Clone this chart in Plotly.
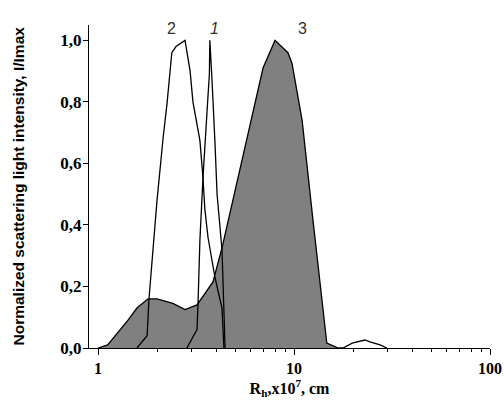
import math
import plotly.graph_objects as go

# Series 1 (narrow peak)
r1 = [2.84, 3.20, 3.24, 3.31, 3.43, 3.51, 3.60, 3.70, 3.72, 3.81, 3.86, 3.95, 4.05, 4.19, 4.29, 4.45]
i1 = [0.00, 0.06, 0.15, 0.35, 0.55, 0.675, 0.77, 0.89, 1.00, 0.88, 0.78, 0.67, 0.50, 0.38, 0.32, 0.00]

# Series 2
r2 = [1.58, 1.78, 1.82, 1.89, 1.93, 2.00, 2.15, 2.25, 2.38, 2.50, 2.78, 2.95, 3.05, 3.24, 3.31, 3.43, 3.51, 3.64, 3.95, 4.29, 4.39]
i2 = [0.00, 0.04, 0.16, 0.285, 0.35, 0.48, 0.685, 0.795, 0.96, 0.98, 1.00, 0.90, 0.80, 0.71, 0.675, 0.555, 0.45, 0.36, 0.23, 0.13, 0.00]

# Series 3 (filled distribution + small bump)
r3 = [1.00, 1.12, 1.42, 1.58, 1.80, 2.00, 2.41, 2.78, 3.20, 3.52, 3.86, 4.29, 5.00, 5.75, 6.18, 6.95, 8.00, 9.31, 9.77, 11.0, 12.5, 14.7, 16.8,
      17.8, 19.8, 23.0, 24.4, 27.5, 29.8]
i3 = [0.00, 0.01, 0.09, 0.13, 0.16, 0.16, 0.145, 0.125, 0.14, 0.18, 0.215, 0.325, 0.51, 0.675, 0.77, 0.91, 1.00, 0.96, 0.925, 0.74, 0.415, 0.016, 0.00,
      0.00, 0.016, 0.026, 0.02, 0.01, 0.00]
n_fill = 23  # points of series 3 that are shaded

curve_labels = ["2", "<i>1</i>", "3"]
label_r = [2.36, 3.91, 11.0]
label_i = [1.04, 1.04, 1.04]

x_ticks = [1, 10, 100]
x_tick_text = ["<b>1</b>", "<b>10</b>", "<b>100</b>"]
x_minor = [2, 3, 4, 5, 6, 7, 8, 9, 20, 30, 40, 50, 60, 70, 80, 90]
y_ticks = [0.0, 0.2, 0.4, 0.6, 0.8, 1.0]
y_tick_text = ["<b>0,0</b>", "<b>0,2</b>", "<b>0,4</b>", "<b>0,6</b>", "<b>0,8</b>", "<b>1,0</b>"]

fig = go.Figure()
fig.add_trace(go.Scatter(x=r3[:n_fill], y=i3[:n_fill], mode="lines", fill="tozeroy",
                         fillcolor="#808080", line=dict(color="black", width=1.3)))
fig.add_trace(go.Scatter(x=r3[n_fill - 1:], y=i3[n_fill - 1:], mode="lines",
                         line=dict(color="black", width=1.3)))
fig.add_trace(go.Scatter(x=r2, y=i2, mode="lines", line=dict(color="black", width=1.3)))
fig.add_trace(go.Scatter(x=r1, y=i1, mode="lines", line=dict(color="black", width=1.3)))

for t, xr, yi in zip(curve_labels, label_r, label_i):
    fig.add_annotation(x=math.log10(xr), y=yi, xref="x", yref="y", text=t,
                       showarrow=False, font=dict(family="Liberation Sans", size=16, color="#333333"))

fig.add_annotation(x=-0.177, y=0.5, xref="paper", yref="paper",
                   text="<b>Normalized scattering light intensity, I/Imax</b>",
                   textangle=-90, showarrow=False, xanchor="center", yanchor="middle",
                   font=dict(family="Liberation Sans", size=15.5, color="black"))

fig.update_layout(
    width=504, height=401,
    margin=dict(l=89, r=14, t=25, b=53),
    paper_bgcolor="white", plot_bgcolor="white",
    showlegend=False,
    font=dict(family="Liberation Serif", size=13, color="black"),
    xaxis=dict(type="log", range=[-0.046, 2.0], tickvals=x_ticks, ticktext=x_tick_text,
               ticks="outside", ticklen=6, tickwidth=1.2, tickcolor="black", automargin=False,
               showline=True, linecolor="black", linewidth=1.3, showgrid=False, zeroline=False,
               minor=dict(tickvals=x_minor, ticks="outside", ticklen=3, tickcolor="black", showgrid=False),
               tickfont=dict(family="Liberation Serif", size=16),
               title=dict(text="<b>R<sub>h</sub>,x10<sup>7</sup>, cm</b>", standoff=2,
                          font=dict(family="Liberation Serif", size=16))),
    yaxis=dict(range=[0, 1.05], tickvals=y_ticks, ticktext=y_tick_text, automargin=False,
               ticks="outside", ticklen=5, tickwidth=1.2, tickcolor="black", ticklabelstandoff=-2,
               showline=True, linecolor="black", linewidth=1.3, showgrid=False, zeroline=False,
               tickfont=dict(family="Liberation Serif", size=17)),
)

# remove the default 8px page margin so the figure fills the window exactly; hide the modebar
fig.write_html("out.html", config={"displayModeBar": False},
               post_script="document.body.style.margin='0';document.body.style.overflow='hidden';")
